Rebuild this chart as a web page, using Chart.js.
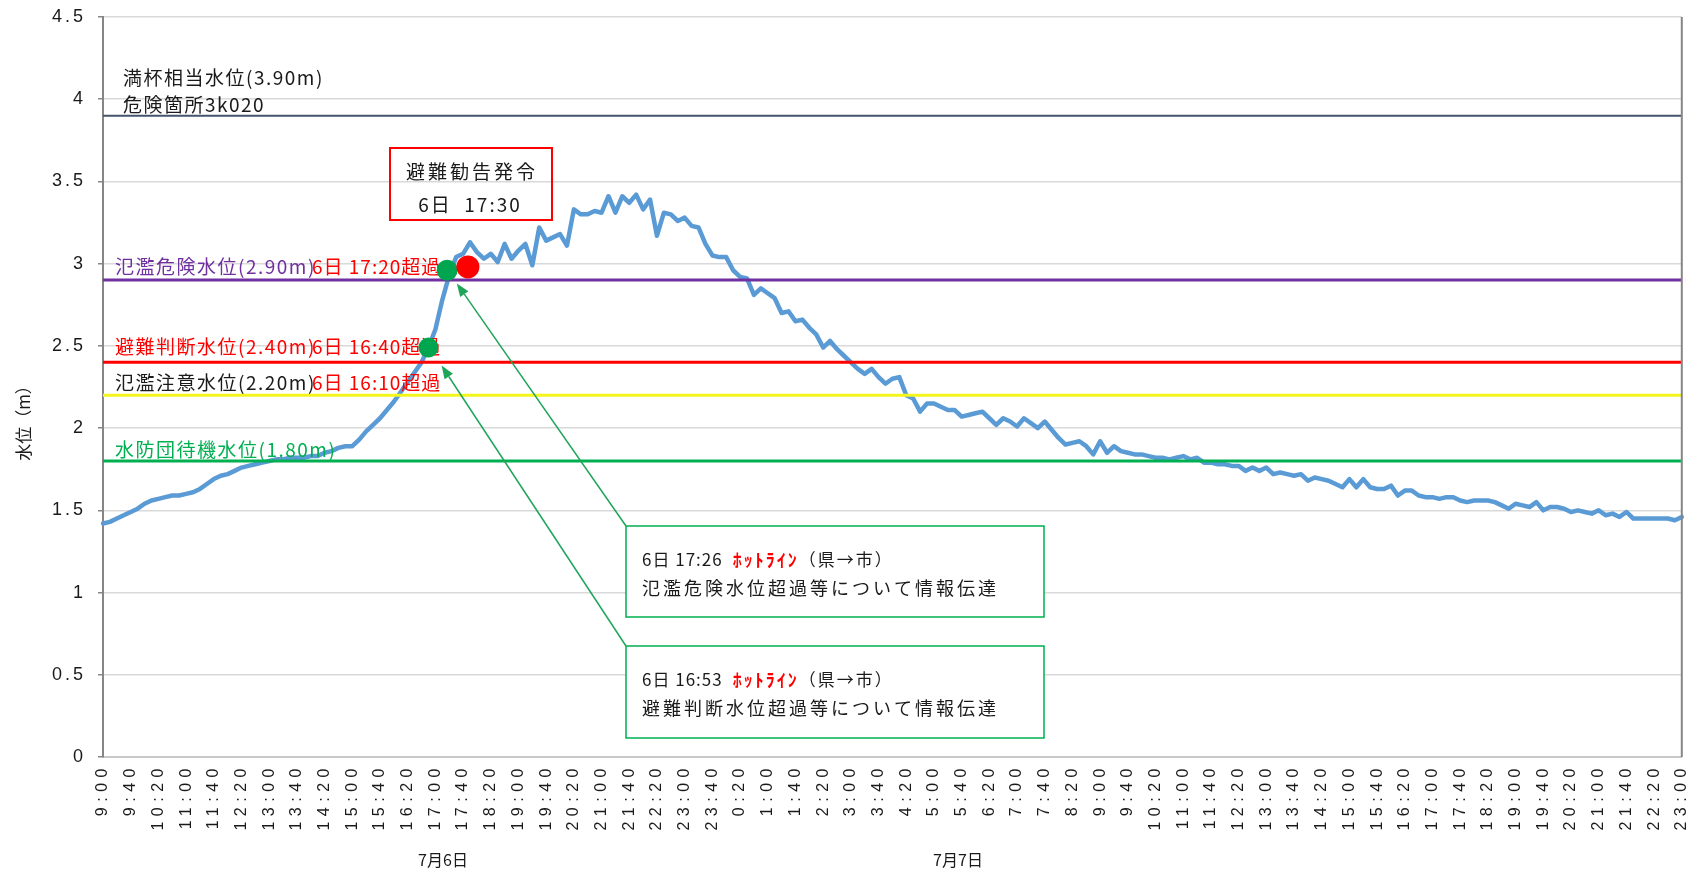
<!DOCTYPE html>
<html lang="ja">
<head>
<meta charset="UTF-8">
<title>水位グラフ</title>
<script src="https://cdn.jsdelivr.net/npm/chart.js@4.4.1/dist/chart.umd.min.js"></script>
<style>
  html, body { margin: 0; padding: 0; background: #fff; }
  #wrap { width: 1707px; height: 873px; }
</style>
</head>
<body>
<div id="wrap"><canvas id="levelChart" width="1707" height="873"></canvas></div>
<script>
// 10分毎の水位 (m)  7/6 9:00 ～ 7/7 23:00
const waterLevel = [
  1.42, 1.43, 1.45, 1.47, 1.49, 1.51, 1.54, 1.56, 1.57, 1.58, 1.59, 1.59,
  1.60, 1.61, 1.63, 1.66, 1.69, 1.71, 1.72, 1.74, 1.76, 1.77, 1.78, 1.79,
  1.80, 1.81, 1.81, 1.82, 1.82, 1.82, 1.83, 1.83, 1.85, 1.86, 1.88, 1.89,
  1.89, 1.93, 1.98, 2.02, 2.06, 2.11, 2.16, 2.22, 2.28, 2.34, 2.40, 2.49,
  2.60, 2.78, 2.93, 3.04, 3.06, 3.13, 3.07, 3.03, 3.06, 3.01, 3.12, 3.03,
  3.08, 3.12, 2.99, 3.22, 3.14, 3.16, 3.18, 3.11, 3.33, 3.30, 3.30, 3.32,
  3.31, 3.41, 3.31, 3.41, 3.37, 3.42, 3.33, 3.39, 3.17, 3.31, 3.30, 3.26,
  3.28, 3.23, 3.22, 3.12, 3.05, 3.04, 3.04, 2.96, 2.92, 2.91, 2.81, 2.85,
  2.82, 2.79, 2.70, 2.71, 2.65, 2.66, 2.61, 2.57, 2.49, 2.53, 2.48, 2.44,
  2.40, 2.36, 2.33, 2.36, 2.31, 2.27, 2.30, 2.31, 2.20, 2.18, 2.10, 2.15,
  2.15, 2.13, 2.11, 2.11, 2.07, 2.08, 2.09, 2.10, 2.06, 2.02, 2.06, 2.04,
  2.01, 2.06, 2.03, 2.00, 2.04, 1.99, 1.94, 1.90, 1.91, 1.92, 1.89, 1.84,
  1.92, 1.85, 1.89, 1.86, 1.85, 1.84, 1.84, 1.83, 1.82, 1.82, 1.81, 1.82,
  1.83, 1.81, 1.82, 1.79, 1.79, 1.78, 1.78, 1.77, 1.77, 1.74, 1.76, 1.74,
  1.76, 1.72, 1.73, 1.72, 1.71, 1.72, 1.68, 1.70, 1.69, 1.68, 1.66, 1.64,
  1.69, 1.64, 1.69, 1.64, 1.63, 1.63, 1.65, 1.59, 1.62, 1.62, 1.59, 1.58,
  1.58, 1.57, 1.58, 1.58, 1.56, 1.55, 1.56, 1.56, 1.56, 1.55, 1.53, 1.51,
  1.54, 1.53, 1.52, 1.55, 1.50, 1.52, 1.52, 1.51, 1.49, 1.50, 1.49, 1.48,
  1.50, 1.47, 1.48, 1.46, 1.49, 1.45, 1.45, 1.45, 1.45, 1.45, 1.45, 1.44,
  1.46
];

// 時刻ラベル (10分毎)
const timeLabels = [];
for (let m = 9 * 60; m <= 47 * 60; m += 10) {
  timeLabels.push((Math.floor(m / 60) % 24) + ':' + String(m % 60).padStart(2, '0'));
}

// 基準水位
const levels = [3.90, 2.90, 2.40, 2.20, 1.80];
const levelNames = ['満杯相当水位(3.90m)', '氾濫危険水位(2.90m)', '避難判断水位(2.40m)', '氾濫注意水位(2.20m)', '水防団待機水位(1.80m)'];
const exceedTimes = ['', '6日 17:20超過', '6日 16:40超過', '6日 16:10超過', ''];

// マーカー [時刻index, 水位]
const markers = [[47.0, 2.49], [49.7, 2.96], [52.7, 2.98]];
// 矢印の先 [時刻index, 水位]
const arrowTips = [[51.1, 2.88], [48.9, 2.38]];

const dateLabels = ['7月6日', '7月7日'];

const JP = '"Noto Sans CJK JP", "Noto Sans", sans-serif';

function drawText(ctx, str, x, y, font, color, spacing, align) {
  ctx.save();
  ctx.font = font;
  ctx.fillStyle = color;
  ctx.letterSpacing = spacing || '0px';
  ctx.textAlign = align || 'left';
  ctx.textBaseline = 'middle';
  ctx.fillText(str, x, y);
  const w = ctx.measureText(str).width;
  ctx.restore();
  return w;
}

function arrow(ctx, x1, y1, x2, y2, color) {
  const a = Math.atan2(y2 - y1, x2 - x1);
  const len = 13, hw = 5;
  ctx.save();
  ctx.strokeStyle = color;
  ctx.fillStyle = color;
  ctx.lineWidth = 1.5;
  ctx.beginPath();
  ctx.moveTo(x1, y1);
  ctx.lineTo(x2 - Math.cos(a) * len, y2 - Math.sin(a) * len);
  ctx.stroke();
  ctx.beginPath();
  ctx.moveTo(x2, y2);
  ctx.lineTo(x2 - Math.cos(a) * len - Math.sin(a) * hw, y2 - Math.sin(a) * len + Math.cos(a) * hw);
  ctx.lineTo(x2 - Math.cos(a) * len + Math.sin(a) * hw, y2 - Math.sin(a) * len - Math.cos(a) * hw);
  ctx.closePath();
  ctx.fill();
  ctx.restore();
}

const annotations = {
  id: 'annotations',
  beforeDraw(chart) {
    chart.ctx.letterSpacing = '3px';   // y軸目盛
  },
  afterDatasetsDraw(chart) {
    const { ctx, chartArea: a, scales: { y } } = chart;
    const colors = ['#44546a', '#7030a0', '#ff0000', '#f5f51e', '#00b050'];
    const widths = [2, 3, 3, 3, 3];
    ctx.save();
    levels.forEach((lv, i) => {
      const py = y.getPixelForValue(lv);
      ctx.strokeStyle = colors[i];
      ctx.lineWidth = widths[i];
      ctx.beginPath();
      ctx.moveTo(a.left, py);
      ctx.lineTo(a.right, py);
      ctx.stroke();
    });
    // 右枠
    ctx.strokeStyle = '#868686';
    ctx.lineWidth = 2;
    ctx.beginPath();
    ctx.moveTo(a.right, a.top);
    ctx.lineTo(a.right, a.bottom);
    ctx.stroke();
    ctx.restore();
    ctx.letterSpacing = '5.5px';   // x軸目盛
  },
  afterDraw(chart) {
    const { ctx, scales: { x, y } } = chart;
    const f19 = '19px ' + JP;
    const black = '#1a1a1a';

    drawText(ctx, levelNames[0], 123, 78, f19, black, '1.5px');
    drawText(ctx, '危険箇所3k020', 123, 105, f19, black, '1.5px');

    const nameColors = ['', '#7030a0', '#ff0000', black, '#00b050'];
    const rowY = ['', 267, 347, 383, 450];
    for (let i = 1; i < levels.length; i++) {
      drawText(ctx, levelNames[i], 115, rowY[i], f19, nameColors[i], '1.5px');
      if (exceedTimes[i]) drawText(ctx, exceedTimes[i], 312, rowY[i], f19, '#ff0000', '1px');
    }

    // 避難勧告発令
    ctx.save();
    ctx.strokeStyle = '#ff0000';
    ctx.lineWidth = 2;
    ctx.strokeRect(390, 148, 162, 72);
    ctx.restore();
    drawText(ctx, '避難勧告発令', 472, 172, f19, black, '3px', 'center');
    drawText(ctx, '6日  17:30', 470, 205, f19, black, '2px', 'center');

    // ホットライン
    const boxes = [
      { top: 526, h: 91, time: '6日 17:26', msg: '氾濫危険水位超過等について情報伝達' },
      { top: 646, h: 92, time: '6日 16:53', msg: '避難判断水位超過等について情報伝達' }
    ];
    const green = '#00b050';
    boxes.forEach((b, i) => {
      ctx.save();
      ctx.fillStyle = '#fff';
      ctx.fillRect(626, b.top, 418, b.h);
      ctx.strokeStyle = green;
      ctx.lineWidth = 1.5;
      ctx.strokeRect(626, b.top, 418, b.h);
      ctx.restore();
      const ty = b.top + 34;
      let w = drawText(ctx, b.time, 642, ty, '17px ' + JP, black, '1px');
      w += drawText(ctx, 'ﾎｯﾄﾗｲﾝ', 642 + w + 10, ty, 'bold 18px ' + JP, '#ff0000', '2px');
      drawText(ctx, '（県→市）', 642 + w + 10, ty, '17px ' + JP, black, '2px');
      drawText(ctx, b.msg, 642, b.top + 62, '18px ' + JP, black, '3px');
      const t = arrowTips[i];
      arrow(ctx, 626, b.top, x.getPixelForValue(t[0]), y.getPixelForValue(t[1]), '#1fa55a');
    });

    // マーカー
    const mColors = ['#00a64f', '#00a64f', '#ff0000'];
    const mR = [10, 10.5, 11.5];
    markers.forEach((m, i) => {
      ctx.save();
      ctx.fillStyle = mColors[i];
      ctx.beginPath();
      ctx.arc(x.getPixelForValue(m[0]), y.getPixelForValue(m[1]), mR[i], 0, Math.PI * 2);
      ctx.fill();
      ctx.restore();
    });

    // 軸タイトル
    ctx.save();
    ctx.translate(24, 419);
    ctx.rotate(-Math.PI / 2);
    drawText(ctx, '水位（m）', 0, 0, '17px ' + JP, black, '0px', 'center');
    ctx.restore();

    // 日付
    drawText(ctx, dateLabels[0], 443, 860, '16px ' + JP, black, '0px', 'center');
    drawText(ctx, dateLabels[1], 958, 860, '16px ' + JP, black, '0px', 'center');
  }
};

const ctx = document.getElementById('levelChart').getContext('2d');
new Chart(ctx, {
  type: 'line',
  data: {
    labels: timeLabels,
    datasets: [{
      label: '水位',
      data: waterLevel,
      borderColor: '#5b9bd5',
      borderWidth: 4.5,
      borderJoinStyle: 'round',
      borderCapStyle: 'round',
      pointRadius: 0,
      tension: 0,
      fill: false
    }]
  },
  options: {
    responsive: false,
    animation: false,
    layout: { padding: { top: 17, right: 19, left: 0, bottom: 0 } },
    plugins: { legend: { display: false }, tooltip: { enabled: false } },
    scales: {
      x: {
        grid: { display: false, drawTicks: false },
        border: { color: '#c8c8c8', width: 2 },
        afterFit: (s) => { s.height = 116; },
        ticks: {
          z: 1,
          autoSkip: false,
          maxRotation: 90,
          minRotation: 90,
          padding: 6,
          color: '#1a1a1a',
          font: { family: '"Liberation Sans", Arial, sans-serif', size: 16 },
          callback: function (v, i) { return i % 4 === 0 ? this.getLabelForValue(v) : null; }
        }
      },
      y: {
        min: 0,
        max: 4.5,
        afterFit: (s) => { s.width = 103; s.paddingTop = 0; s.paddingBottom = 0; },
        grid: { color: '#d9d9d9', lineWidth: 1.5, tickLength: 5, tickColor: '#868686' },
        border: { color: '#868686', width: 2 },
        ticks: {
          stepSize: 0.5,
          padding: 12,
          color: '#1a1a1a',
          font: { family: '"Liberation Sans", Arial, sans-serif', size: 18 },
          callback: (v) => String(v)
        }
      }
    }
  },
  plugins: [annotations]
});
</script>
</body>
</html>
